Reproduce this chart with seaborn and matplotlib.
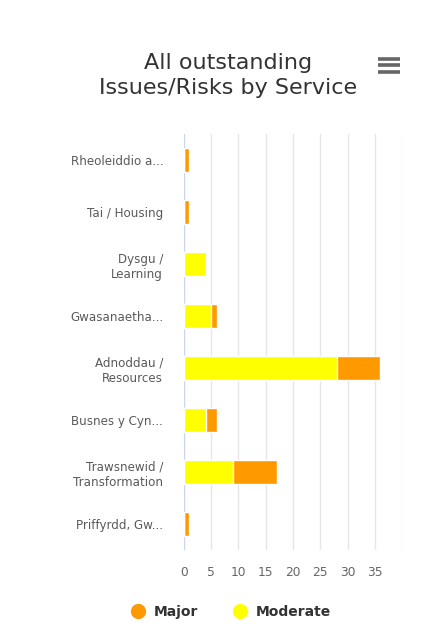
import matplotlib
matplotlib.use("Agg")
import matplotlib.pyplot as plt
import seaborn as sns
import pandas as pd
from matplotlib.lines import Line2D

categories = ["Rheoleiddio a...", "Tai / Housing", "Dysgu /\nLearning", "Gwasanaetha...",
              "Adnoddau /\nResources", "Busnes y Cyn...", "Trawsnewid /\nTransformation",
              "Priffyrdd, Gw..."]
moderate = [0, 0, 4, 5, 28, 4, 9, 0]
major = [1, 1, 0, 1, 8, 2, 8, 1]
x_ticks = [0, 5, 10, 15, 20, 25, 30, 35]

df = pd.DataFrame({"service": categories, "Moderate": moderate, "Major": major})
df["total"] = df["Moderate"] + df["Major"]

orange = "#ff9900"
yellow = "#ffff00"

sns.set_style("white")
plt.rcParams["font.family"] = ["DejaVu Sans"]

fig, ax = plt.subplots(figsize=(4.37, 6.26), dpi=100)
fig.subplots_adjust(left=0.421, right=0.92, top=0.786, bottom=0.121)

for x in range(5, 45, 5):
    ax.axvline(x, color="#e6e6e6", lw=1, zorder=0)
ax.axvline(0, color="#ccd6eb", lw=1, zorder=0)

sns.barplot(data=df, x="total", y="service", color=orange, width=0.46,
            edgecolor="white", linewidth=1, saturation=1, ax=ax, zorder=2)
sns.barplot(data=df, x="Moderate", y="service", color=yellow, width=0.46,
            edgecolor="white", linewidth=1, saturation=1, ax=ax, zorder=3)

ax.set_xlim(0, 40)
ax.set_ylim(len(categories) - 0.5, -0.5)
ax.set_xticks(x_ticks)
ax.set_xlabel("")
ax.set_ylabel("")
ax.tick_params(axis="x", colors="#666666", labelsize=8.8, length=0, pad=11)
ax.tick_params(axis="y", colors="#5a5a5a", labelsize=8.6, length=0, pad=15)
for lbl in ax.get_yticklabels():
    lbl.set_horizontalalignment("right")
for s in ax.spines.values():
    s.set_visible(False)

fig.text(0.522, 0.879, "All outstanding\nIssues/Risks by Service", ha="center",
         va="center", fontsize=16, color="#333333", linespacing=1.3)

# menu icon
for yy in [0.9065, 0.896, 0.885]:
    fig.add_artist(Line2D([0.866, 0.916], [yy, yy], color="#666666", lw=2.6,
                          transform=fig.transFigure, solid_capstyle="butt"))

handles = [Line2D([0], [0], marker="o", color="w", markerfacecolor=orange,
                  markersize=12, label="Major"),
           Line2D([0], [0], marker="o", color="w", markerfacecolor=yellow,
                  markersize=12, label="Moderate")]
leg = fig.legend(handles=handles, loc="center", bbox_to_anchor=(0.52, 0.022), ncol=2,
                 frameon=False, handletextpad=0.15, columnspacing=2.0, fontsize=10)
for t in leg.get_texts():
    t.set_color("#333333")
    t.set_fontweight("bold")

fig.savefig("out.png", dpi=100)
